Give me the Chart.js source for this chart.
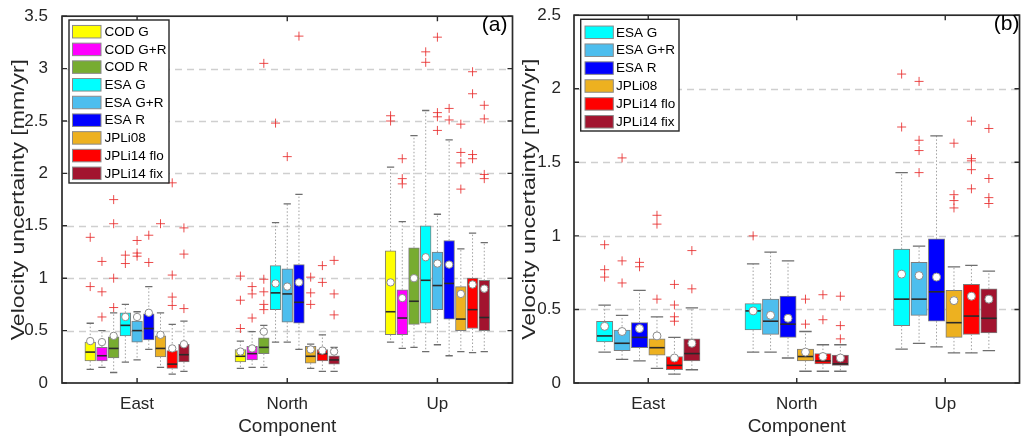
<!DOCTYPE html>
<html><head><meta charset="utf-8">
<script src="https://cdn.jsdelivr.net/npm/chart.js@4.4.1/dist/chart.umd.min.js"></script>
<style>
html,body{margin:0;padding:0;background:#fff;width:1025px;height:438px;overflow:hidden}
#ca{position:absolute;left:0;top:0}
#cb{position:absolute;left:518px;top:0}
</style></head><body>
<canvas id="ca" width="518" height="438"></canvas>
<canvas id="cb" width="507" height="438"></canvas>
<script>
// ---------- data ----------
const components = ['East', 'North', 'Up'];
const yTicksA = [0, 0.5, 1, 1.5, 2, 2.5, 3, 3.5];
const yTicksB = [0, 0.5, 1, 1.5, 2, 2.5];
const yTitle = 'Velocity uncertainty [mm/yr]';
const xTitle = 'Component';

// panel (a)
const seriesA = ['COD G', 'COD G+R', 'COD R', 'ESA G', 'ESA G+R', 'ESA R', 'JPLi08', 'JPLi14 flo', 'JPLi14 fix'];
const colorsA = ['#ffff00', '#ff00ff', '#77ac30', '#00ffff', '#4dbeee', '#0000ff', '#edb120', '#ff0000', '#a2142f'];
// arrays indexed [component][series]
const aLow  = [[0.13, 0.15, 0.10, 0.20, 0.22, 0.32, 0.15, 0.085, 0.11],
               [0.14, 0.15, 0.15, 0.39, 0.39, 0.32, 0.14, 0.11, 0.11],
               [0.39, 0.33, 0.34, 0.30, 0.365, 0.26, 0.30, 0.29, 0.30]];
const aQ1   = [[0.21, 0.21, 0.24, 0.45, 0.39, 0.41, 0.25, 0.14, 0.20],
               [0.20, 0.22, 0.28, 0.70, 0.58, 0.57, 0.19, 0.21, 0.18],
               [0.46, 0.46, 0.56, 0.57, 0.70, 0.61, 0.50, 0.52, 0.50]];
const aMed  = [[0.295, 0.26, 0.33, 0.55, 0.50, 0.52, 0.33, 0.18, 0.27],
               [0.255, 0.28, 0.34, 0.86, 0.85, 0.77, 0.255, 0.28, 0.22],
               [0.68, 0.62, 0.78, 0.98, 0.93, 0.95, 0.61, 0.70, 0.625]];
const aQ3   = [[0.39, 0.34, 0.44, 0.67, 0.59, 0.66, 0.45, 0.31, 0.37],
               [0.32, 0.35, 0.43, 1.12, 1.09, 1.13, 0.35, 0.32, 0.26],
               [1.26, 0.89, 1.29, 1.50, 1.25, 1.36, 0.92, 1.00, 0.98]];
const aHigh = [[0.57, 0.50, 0.67, 0.75, 0.68, 0.92, 0.67, 0.56, 0.59],
               [0.40, 0.49, 0.55, 1.53, 1.71, 1.80, 0.37, 0.46, 0.34],
               [2.06, 1.54, 2.36, 2.60, 1.61, 2.32, 1.28, 1.43, 1.34]];
const aMean = [[0.40, 0.39, 0.45, 0.63, 0.63, 0.67, 0.46, 0.33, 0.37],
               [0.30, 0.33, 0.49, 0.95, 0.92, 0.96, 0.32, 0.31, 0.30],
               [0.96, 0.81, 1.00, 1.20, 1.14, 1.13, 0.85, 0.94, 0.90]];
const aOut  = [
  [[1.39, 0.92], [1.16, 0.87, 0.63], [1.75, 1.52, 1.00, 0.72], [1.22, 1.14], [1.36, 1.24, 1.21], [1.41, 1.15], [1.52], [1.91, 1.03, 0.82, 0.74], [1.48, 1.23, 0.71]],
  [[1.02, 0.79, 0.52], [0.92, 0.85, 0.62], [3.05, 0.99, 0.87, 0.75, 0.70], [2.48], [2.16], [3.31], [1.01, 0.86, 0.75], [1.12, 0.96], [1.17, 0.85, 0.65]],
  [[2.55, 2.50], [2.14, 1.95, 1.90], [], [3.16, 3.06], [3.30, 2.58, 2.54, 2.41], [2.62, 2.51], [2.47, 2.20, 2.10, 1.85], [2.97, 2.76, 2.18, 2.14], [2.65, 2.52, 1.99, 1.95]]
];

// panel (b)
const seriesB = ['ESA G', 'ESA G+R', 'ESA R', 'JPLi08', 'JPLi14 flo', 'JPLi14 fix'];
const colorsB = ['#00ffff', '#4dbeee', '#0000ff', '#edb120', '#ff0000', '#a2142f'];
const bLow  = [[0.21, 0.16, 0.15, 0.10, 0.06, 0.09],
               [0.21, 0.21, 0.17, 0.08, 0.08, 0.08],
               [0.23, 0.27, 0.245, 0.205, 0.205, 0.22]];
const bQ1   = [[0.28, 0.22, 0.24, 0.19, 0.09, 0.15],
               [0.36, 0.33, 0.31, 0.15, 0.13, 0.12],
               [0.39, 0.46, 0.42, 0.31, 0.33, 0.34]];
const bMed  = [[0.32, 0.27, 0.31, 0.24, 0.12, 0.20],
               [0.49, 0.42, 0.40, 0.18, 0.15, 0.13],
               [0.57, 0.57, 0.62, 0.41, 0.455, 0.44]];
const bQ3   = [[0.42, 0.36, 0.41, 0.30, 0.18, 0.30],
               [0.54, 0.57, 0.59, 0.23, 0.20, 0.19],
               [0.91, 0.82, 0.98, 0.63, 0.67, 0.64]];
const bHigh = [[0.53, 0.46, 0.63, 0.45, 0.31, 0.51],
               [0.81, 0.89, 0.83, 0.35, 0.26, 0.26],
               [1.43, 0.93, 1.68, 0.79, 0.80, 0.76]];
const bMean = [[0.385, 0.35, 0.37, 0.32, 0.17, 0.27],
               [0.49, 0.46, 0.44, 0.21, 0.18, 0.17],
               [0.74, 0.73, 0.72, 0.56, 0.59, 0.57]];
const bOut  = [
  [[0.94, 0.77, 0.72], [1.53, 0.83, 0.68], [0.82, 0.79], [1.14, 1.08, 0.57], [0.67, 0.53, 0.45, 0.42], [0.90, 0.64]],
  [[1.0], [], [], [0.57, 0.40], [0.60, 0.43], [0.59, 0.39, 0.30]],
  [[2.10, 1.74], [2.05, 1.65, 1.58, 1.43], [], [1.63, 1.28, 1.24, 1.19], [1.78, 1.525, 1.51, 1.45, 1.32], [1.73, 1.39, 1.26, 1.22]]
];

// ---------- rendering ----------
const FONT = '"Liberation Sans", Arial, Helvetica, sans-serif';
const INK = '#262626';

function boxExtras(p) {
  return {
    id: 'boxExtras',
    beforeDatasetsDraw(chart) {
      const {ctx, chartArea: a} = chart; const y = chart.scales.y;
      ctx.save();
      ctx.strokeStyle = '#cfcfcf'; ctx.lineWidth = 1.4; ctx.setLineDash([7, 5]);
      p.yTicks.forEach(v => {
        if (v <= y.min || v >= y.max) return;
        const py = Math.round(y.getPixelForValue(v)) + 0.5;
        ctx.beginPath(); ctx.moveTo(a.left + 5, py); ctx.lineTo(a.right - 2, py); ctx.stroke();
      });
      ctx.restore();
    },
    afterDatasetDraw(chart, args) {
      const meta = args.meta;
      if (meta.type !== 'bar') return;
      const s = args.index;
      const ctx = chart.ctx; const y = chart.scales.y;
      ctx.save();
      meta.data.forEach((el, ci) => {
        const x = el.x, hw = el.width / 2, cw = el.width * p.capFrac;
        const pLow = y.getPixelForValue(p.low[ci][s]), pHigh = y.getPixelForValue(p.high[ci][s]);
        const pQ1 = y.getPixelForValue(p.q1[ci][s]), pQ3 = y.getPixelForValue(p.q3[ci][s]);
        const pMed = y.getPixelForValue(p.med[ci][s]);
        ctx.setLineDash([1.5, 2]); ctx.strokeStyle = '#a0a0a0'; ctx.lineWidth = 1;
        ctx.beginPath();
        ctx.moveTo(x, pQ3); ctx.lineTo(x, pHigh);
        ctx.moveTo(x, pQ1); ctx.lineTo(x, pLow);
        ctx.stroke();
        ctx.setLineDash([]); ctx.strokeStyle = '#6e6e6e'; ctx.lineWidth = 1.3;
        ctx.beginPath();
        ctx.moveTo(x - cw, pHigh); ctx.lineTo(x + cw, pHigh);
        ctx.moveTo(x - cw, pLow); ctx.lineTo(x + cw, pLow);
        ctx.stroke();
        ctx.strokeStyle = '#2a2a2a'; ctx.lineWidth = 1.6;
        ctx.beginPath(); ctx.moveTo(x - hw + 0.5, pMed); ctx.lineTo(x + hw - 0.5, pMed); ctx.stroke();
      });
      ctx.restore();
    },
    afterDraw(chart) {
      const {ctx, chartArea: a} = chart; const y = chart.scales.y; const xs = chart.scales.x;
      ctx.save();
      // frame
      ctx.strokeStyle = '#2b2b2b'; ctx.lineWidth = 1.7; ctx.setLineDash([]);
      ctx.strokeRect(a.left, a.top, a.right - a.left, a.bottom - a.top);
      ctx.lineWidth = 1.4;
      ctx.beginPath();
      p.yTicks.forEach(v => {
        const py = y.getPixelForValue(v);
        ctx.moveTo(a.left, py); ctx.lineTo(a.left + 5, py);
        ctx.moveTo(a.right, py); ctx.lineTo(a.right - 5, py);
      });
      xs.ticks.forEach((t, i) => {
        const px = xs.getPixelForTick(i);
        ctx.moveTo(px, a.top); ctx.lineTo(px, a.top + 5);
        ctx.moveTo(px, a.bottom); ctx.lineTo(px, a.bottom - 5);
      });
      ctx.stroke();
      // legend
      const L = p.legend;
      ctx.fillStyle = '#fff';
      ctx.fillRect(L.x, L.y, L.w, L.h);
      ctx.strokeStyle = INK; ctx.lineWidth = 1.4;
      ctx.strokeRect(L.x, L.y, L.w, L.h);
      ctx.font = '13.5px ' + FONT; ctx.textBaseline = 'middle'; ctx.textAlign = 'left';
      p.series.forEach((name, s) => {
        const cy = L.first + s * L.row;
        ctx.fillStyle = p.colors[s];
        ctx.fillRect(L.swX, cy - L.swH / 2, L.swW, L.swH);
        ctx.strokeStyle = '#8a8a8a'; ctx.lineWidth = 1;
        ctx.strokeRect(L.swX, cy - L.swH / 2, L.swW, L.swH);
        ctx.fillStyle = '#000';
        ctx.fillText(name, L.textX, cy + 0.5);
      });
      // panel tag
      ctx.font = '21px ' + FONT; ctx.fillStyle = '#000'; ctx.textAlign = 'right';
      ctx.fillText(p.tag, p.tagX, p.tagY);
      // y title (slightly condensed across its height, like the reference)
      ctx.translate(p.titleX, (a.top + a.bottom) / 2);
      ctx.rotate(-Math.PI / 2);
      ctx.scale(1, 0.82);
      ctx.font = '23px ' + FONT; ctx.fillStyle = INK; ctx.textAlign = 'center'; ctx.textBaseline = 'middle';
      ctx.fillText(yTitle, 0, 0);
      ctx.restore();
    }
  };
}

function buildChart(id, p) {
  const n = p.series.length;
  const offsetOf = s => (s - (n - 1) / 2) * p.pitch;
  const datasets = [];
  p.series.forEach((name, s) => {
    datasets.push({
      type: 'bar', label: name, order: 2, xAxisID: 'xl', grouped: false,
      data: components.map((c, ci) => ({x: ci + offsetOf(s), y: [p.q1[ci][s], p.q3[ci][s]]})),
      backgroundColor: p.colors[s], borderColor: '#7d7d7d', borderWidth: 1, borderSkipped: false,
      barThickness: p.boxW
    });
  });
  const meanPts = [], outPts = [];
  p.series.forEach((name, s) => {
    components.forEach((c, ci) => {
      meanPts.push({x: ci + offsetOf(s), y: p.mean[ci][s]});
      p.out[ci][s].forEach(v => outPts.push({x: ci + offsetOf(s), y: v}));
    });
  });
  datasets.push({type: 'scatter', label: 'mean', xAxisID: 'xl', order: 1, data: meanPts,
    pointStyle: 'circle', pointRadius: p.meanR, backgroundColor: '#ffffff', borderColor: '#8c8c8c', borderWidth: 1});
  datasets.push({type: 'scatter', label: 'outliers', xAxisID: 'xl', order: 0, data: outPts,
    pointStyle: 'cross', pointRadius: 4.5, backgroundColor: 'rgba(0,0,0,0)', borderColor: 'rgba(232,45,45,0.85)', borderWidth: 1});

  return new Chart(document.getElementById(id), {
    type: 'bar',
    data: {labels: components, datasets},
    plugins: [boxExtras(p)],
    options: {
      responsive: false, animation: false, events: [],
      layout: {padding: {top: p.padTop, right: p.padRight, left: 0, bottom: 0}},
      plugins: {legend: {display: false}, tooltip: {enabled: false}},
      scales: {
        x: {
          type: 'category', offset: true,
          grid: {display: false}, border: {display: false},
          ticks: {color: INK, font: {family: FONT, size: 17}, padding: 3, maxRotation: 0},
          title: {display: true, text: xTitle, color: INK, font: {family: FONT, size: 19}, padding: 0},
          afterFit: s => { s.height = 55; }
        },
        xl: {type: 'linear', display: false, offset: false, min: -0.5, max: 2.5, grid: {offset: false}},
        y: {
          type: 'linear', min: 0, max: p.yTicks[p.yTicks.length - 1],
          grid: {display: false}, border: {display: false},
          afterBuildTicks: s => { s.ticks = p.yTicks.map(v => ({value: v})); },
          ticks: {color: INK, font: {family: FONT, size: 17}, padding: p.tickPad,
                  callback: v => String(+Number(v).toFixed(2))},
          title: {display: false},
          afterFit: s => { s.width = p.yAxisW; }
        }
      }
    }
  });
}

buildChart('ca', {
  series: seriesA, colors: colorsA, yTicks: yTicksA,
  low: aLow, q1: aQ1, med: aMed, q3: aQ3, high: aHigh, mean: aMean, out: aOut,
  pitch: 0.078, boxW: 10.7, capFrac: 0.34, meanR: 3.7,
  padTop: 12, padRight: 5, yAxisW: 62, tickPad: 6,
  titleX: 18.5, tag: '(a)', tagX: 507.5, tagY: 25,
  legend: {x: 69, y: 20, w: 100, h: 163, swX: 72.5, swW: 28.5, swH: 12.5, textX: 104.5, first: 31.7, row: 17.7}
});
buildChart('cb', {
  series: seriesB, colors: colorsB, yTicks: yTicksB,
  low: bLow, q1: bQ1, med: bMed, q3: bQ3, high: bHigh, mean: bMean, out: bOut,
  pitch: 0.1175, boxW: 16.3, capFrac: 0.38, meanR: 4,
  padTop: 13, padRight: 2, yAxisW: 56, tickPad: 5,
  titleX: 11.5, tag: '(b)', tagX: 501.5, tagY: 24,
  legend: {x: 62.7, y: 19.3, w: 98.3, h: 111.7, swX: 67, swW: 28.3, swH: 12.5, textX: 98, first: 32.3, row: 17.9}
});
</script>
</body></html>
